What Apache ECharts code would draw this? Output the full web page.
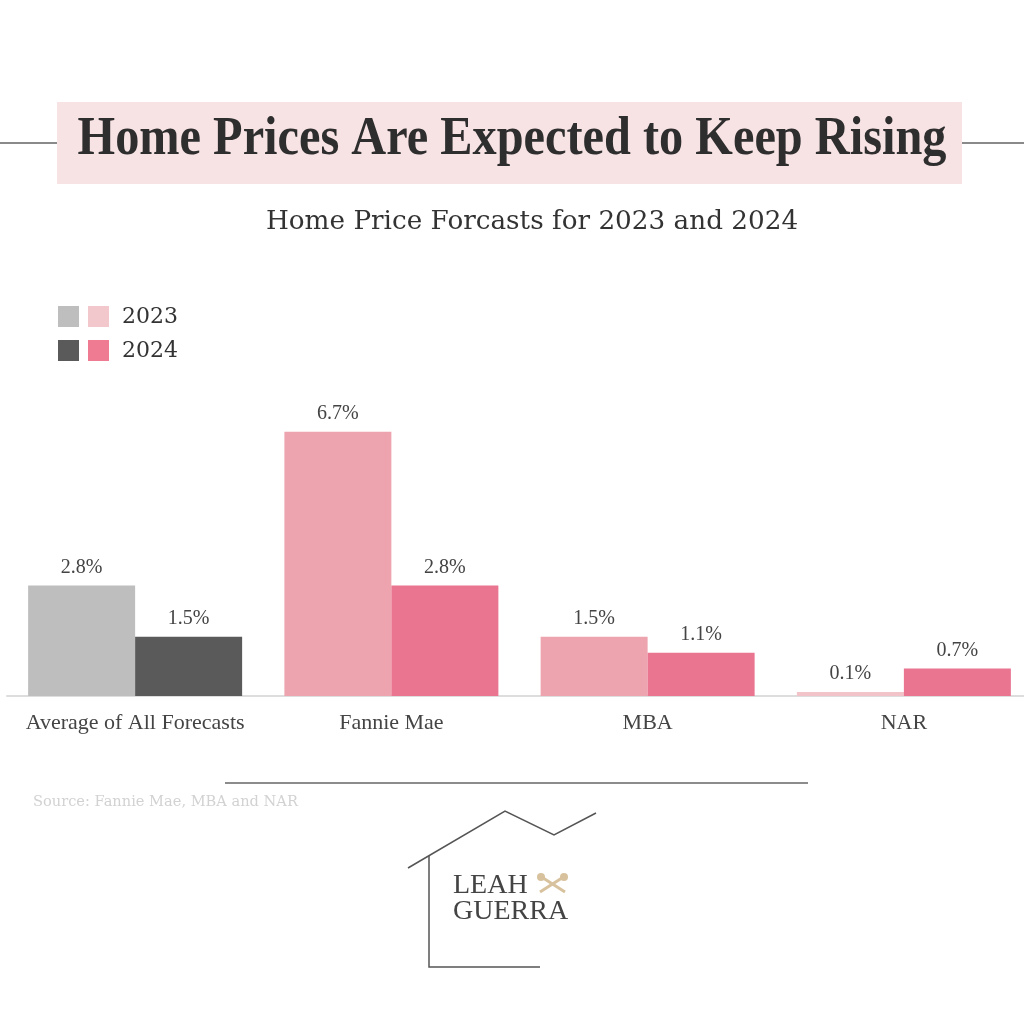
<!DOCTYPE html>
<html>
<head>
<meta charset="utf-8">
<script src="https://cdn.jsdelivr.net/npm/echarts@6/dist/echarts.min.js"></script>
<style>
  html, body { margin: 0; padding: 0; background: #fff; }
  #chart { width: 1024px; height: 1024px; }
</style>
</head>
<body>
<div id="chart"></div>
<script>
const categories = ['Average of All Forecasts', 'Fannie Mae', 'MBA', 'NAR'];
const values2023 = [2.8, 6.7, 1.5, 0.1];
const values2024 = [1.5, 2.8, 1.1, 0.7];
const colors2023 = ['#bebebe', '#eda4af', '#eda4af', '#f2c3c9'];
const colors2024 = ['#5a5a5a', '#ea7590', '#ea7590', '#ea7590'];
const legendYears = ['2023', '2024'];

const chart = echarts.init(document.getElementById('chart'));

function toItems(values, colors) {
    return values.map((v, i) => ({ value: v, itemStyle: { color: colors[i] } }));
}

const labelStyle = {
    show: true,
    position: 'top',
    distance: 8,
    formatter: '{c}%',
    fontFamily: 'Liberation Serif',
    fontSize: 20,
    color: '#444'
};

const option = {
    backgroundColor: '#ffffff',
    animation: false,
    grid: { left: 7, width: 1025, top: 420, bottom: 328, containLabel: false, outerBoundsMode: 'none' },
    xAxis: {
        type: 'category',
        data: categories,
        axisLine: { lineStyle: { color: '#dddddd', width: 2 } },
        axisTick: { show: false },
        axisLabel: {
            interval: 0,
            margin: 16,
            fontFamily: 'Liberation Serif',
            fontSize: 22,
            color: '#444'
        }
    },
    yAxis: { type: 'value', min: 0, max: 7, show: false },
    series: [
        {
            name: '2023',
            type: 'bar',
            barWidth: 107,
            barGap: '0%',
            data: toItems(values2023, colors2023),
            label: labelStyle
        },
        {
            name: '2024',
            type: 'bar',
            barWidth: 107,
            barGap: '0%',
            data: toItems(values2024, colors2024),
            label: labelStyle
        }
    ],
    graphic: [
        // title band
        { type: 'rect', shape: { x: 57, y: 102, width: 905, height: 82 }, style: { fill: '#f7e2e4' } },
        { type: 'line', shape: { x1: 0, y1: 143, x2: 57, y2: 143 }, style: { stroke: '#8a8a8a', lineWidth: 2 } },
        { type: 'line', shape: { x1: 962, y1: 143, x2: 1024, y2: 143 }, style: { stroke: '#8a8a8a', lineWidth: 2 } },
        {
            type: 'text', x: 512, y: 140, scaleX: 0.895,
            style: {
                text: 'Home Prices Are Expected to Keep Rising',
                font: 'bold 54px "Liberation Serif"',
                fill: '#2e2e2e', align: 'center', verticalAlign: 'middle'
            }
        },
        {
            type: 'text', x: 532, y: 222, scaleX: 1.01,
            style: {
                text: 'Home Price Forcasts for 2023 and 2024',
                font: '26px "DejaVu Serif"',
                fill: '#333', align: 'center', verticalAlign: 'middle'
            }
        },
        // legend
        { type: 'rect', shape: { x: 58, y: 306, width: 21, height: 21 }, style: { fill: colors2023[0] } },
        { type: 'rect', shape: { x: 88, y: 306, width: 21, height: 21 }, style: { fill: '#f2c8cc' } },
        { type: 'rect', shape: { x: 58, y: 340, width: 21, height: 21 }, style: { fill: colors2024[0] } },
        { type: 'rect', shape: { x: 88, y: 340, width: 21, height: 21 }, style: { fill: '#ef7b92' } },
        {
            type: 'text', x: 122, y: 317,
            style: { text: legendYears[0], font: '22px "DejaVu Serif"', fill: '#333', verticalAlign: 'middle' }
        },
        {
            type: 'text', x: 122, y: 351,
            style: { text: legendYears[1], font: '22px "DejaVu Serif"', fill: '#333', verticalAlign: 'middle' }
        },
        // footer
        { type: 'line', shape: { x1: 225, y1: 783, x2: 808, y2: 783 }, style: { stroke: '#666', lineWidth: 1.5 } },
        {
            type: 'text', x: 33, y: 802,
            style: { text: 'Source: Fannie Mae, MBA and NAR', font: '14.6px "DejaVu Serif"', fill: '#d2d2d2', verticalAlign: 'middle' }
        },
        // logo
        {
            type: 'polyline',
            shape: { points: [[408, 868], [505, 811], [554, 835], [596, 813]] },
            style: { stroke: '#555', lineWidth: 1.5, fill: null }
        },
        {
            type: 'polyline',
            shape: { points: [[429, 856], [429, 967], [540, 967]] },
            style: { stroke: '#555', lineWidth: 1.5, fill: null }
        },
        {
            type: 'text', x: 453, y: 900,
            style: { text: 'LEAH', font: '28px "Liberation Serif"', fill: '#444', verticalAlign: 'bottom' }
        },
        {
            type: 'text', x: 453, y: 926,
            style: { text: 'GUERRA', font: '28px "Liberation Serif"', fill: '#444', verticalAlign: 'bottom' }
        },
        { type: 'line', shape: { x1: 540, y1: 876, x2: 565, y2: 892 }, style: { stroke: '#d8c29e', lineWidth: 3 } },
        { type: 'line', shape: { x1: 565, y1: 876, x2: 540, y2: 892 }, style: { stroke: '#d8c29e', lineWidth: 3 } },
        { type: 'circle', shape: { cx: 541, cy: 877, r: 4 }, style: { fill: '#d8c29e' } },
        { type: 'circle', shape: { cx: 564, cy: 877, r: 4 }, style: { fill: '#d8c29e' } }
    ]
};

chart.setOption(option);
</script>
</body>
</html>
